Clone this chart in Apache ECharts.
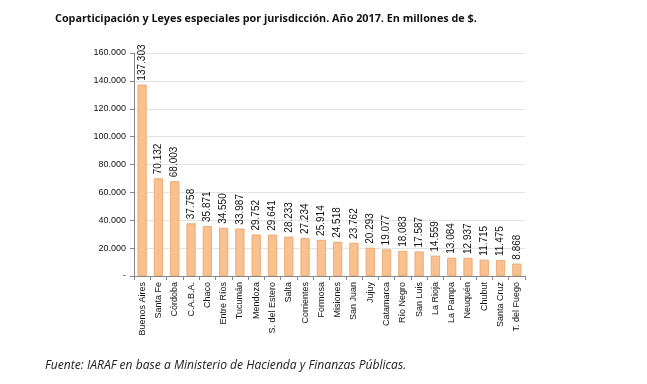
<!DOCTYPE html>
<html><head><meta charset="utf-8">
<script src="https://cdn.jsdelivr.net/npm/echarts@6/dist/echarts.min.js"></script>
<style>html,body{margin:0;padding:0;background:#fff}#c{width:647px;height:384px}</style>
</head><body><div id="c"></div>
<script>
const categories = ["Buenos Aires","Santa Fe","Córdoba","C.A.B.A.","Chaco","Entre Ríos","Tucumán","Mendoza","S. del Estero","Salta","Corrientes","Formosa","Misiones","San Juan","Jujuy","Catamarca","Río Negro","San Luis","La Rioja","La Pampa","Neuquén","Chubut","Santa Cruz","T. del Fuego"];
const values = [137303,70132,68003,37758,35871,34550,33987,29752,29641,28233,27234,25914,24518,23762,20293,19077,18083,17587,14559,13084,12937,11715,11475,8868];
const yTicks = [0,20000,40000,60000,80000,100000,120000,140000,160000];

function fmt(v){ if(v===0) return '-'; return String(v).replace(/\B(?=(\d{3})+(?!\d))/g,'.'); }

const chart = echarts.init(document.getElementById('c'), null, {renderer:'canvas'});
chart.setOption({
  animation:false,
  backgroundColor:'#fff',
  title:[{
    text:'Coparticipación y Leyes especiales por jurisdicción. Año 2017. En millones de $.',
    left:50, top:8,
    textStyle:{fontFamily:'Open Sans', fontWeight:'bold', fontSize:10.8, color:'#111'}
  },{
    text:'Fuente: IARAF en base a Ministerio de Hacienda y Finanzas Públicas.',
    left:40, top:355,
    textStyle:{fontFamily:'Open Sans', fontStyle:'italic', fontWeight:'normal', fontSize:12.1, color:'#222'}
  }],
  grid:{left:134, right:122, top:53, bottom:108, containLabel:false},
  xAxis:{
    type:'category', data:categories,
    axisLine:{lineStyle:{color:'#888'}},
    axisTick:{show:true, alignWithLabel:false, length:4, lineStyle:{color:'#888'}},
    axisLabel:{rotate:90, interval:0, fontFamily:'Liberation Sans', fontSize:9, color:'#111', margin:6}
  },
  yAxis:{
    type:'value', min:0, max:160000, interval:20000,
    axisLine:{show:true, lineStyle:{color:'#888'}},
    axisTick:{show:true, length:4, lineStyle:{color:'#888'}},
    splitLine:{lineStyle:{color:'#e3e3e3'}},
    axisLabel:{formatter:fmt, fontFamily:'Liberation Sans', fontSize:9, color:'#111', margin:8}
  },
  series:[{
    type:'bar', data:values, barCategoryGap:'44%',
    itemStyle:{color:'#F9C18F', borderColor:'#E8A065', borderWidth:0.8},
    label:{show:true, position:'top', rotate:90, align:'left', verticalAlign:'middle', distance:4,
      formatter:p=>fmt(p.value), fontFamily:'Liberation Sans', fontSize:10, color:'#111'}
  }]
});
</script></body></html>
